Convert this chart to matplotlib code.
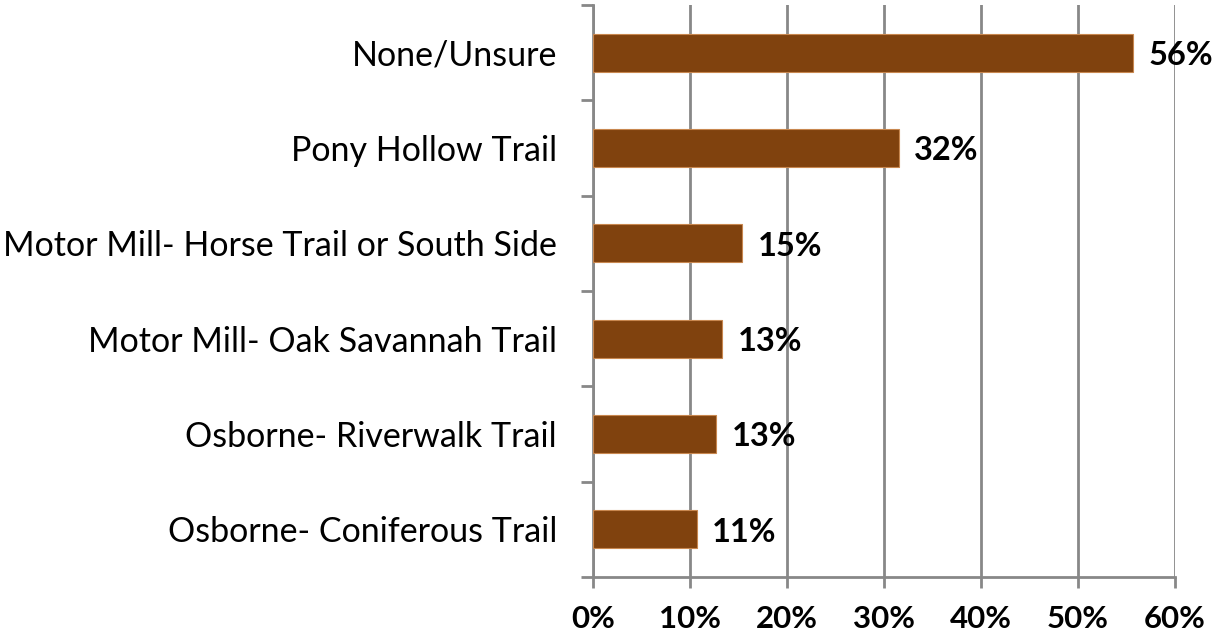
import matplotlib
matplotlib.use("Agg")
import matplotlib.pyplot as plt
from matplotlib.ticker import FixedLocator, PercentFormatter

categories = ["None/Unsure", "Pony Hollow Trail", "Motor Mill- Horse Trail or South Side",
              "Motor Mill- Oak Savannah Trail", "Osborne- Riverwalk Trail", "Osborne- Coniferous Trail"]
values = [55.7, 31.5, 15.4, 13.3, 12.7, 10.7]
labels = ["56%", "32%", "15%", "13%", "13%", "11%"]
xticks = [0, 10, 20, 30, 40, 50, 60]

plt.rcParams['font.family'] = ['Lato', 'DejaVu Sans']

fig = plt.figure(figsize=(12.13, 6.33), dpi=100)
ax = fig.add_axes([593/1213, 1-577/633, (1175-593)/1213, (577-5)/633])

n = len(categories)
ypos = list(range(n))
ax.barh(ypos, values, height=0.4, color="#80420E", edgecolor="#C8874F", linewidth=0.8, zorder=3)
for y, v, t in zip(ypos, values, labels):
    ax.text(v + 1.6, y + 0.03, t, va="center", ha="left", fontsize=23.5, fontweight="bold", zorder=4)

ax.set_ylim(n - 0.5, -0.5)
ax.set_xlim(0, 60)
ax.set_yticks(ypos)
ax.set_yticklabels(categories, fontsize=24.5)
ax.yaxis.set_minor_locator(FixedLocator([i - 0.5 for i in range(n + 1)]))
ax.tick_params(axis="y", which="major", length=0, pad=26)
ax.tick_params(axis="y", which="minor", length=9, width=2, color="#888888")
ax.set_xticks(xticks)
ax.xaxis.set_major_formatter(PercentFormatter(decimals=0))
ax.tick_params(axis="x", length=8, width=2, color="#888888", pad=12)
for lab in ax.get_xticklabels():
    lab.set_fontsize(22.5)
    lab.set_fontweight("bold")
ax.grid(axis="x", color="#888888", linewidth=2, zorder=0)
for s in ["top", "right"]:
    ax.spines[s].set_visible(False)
for s in ["left", "bottom"]:
    ax.spines[s].set_color("#888888")
    ax.spines[s].set_linewidth(2)

fig.savefig("out.png", dpi=100)
